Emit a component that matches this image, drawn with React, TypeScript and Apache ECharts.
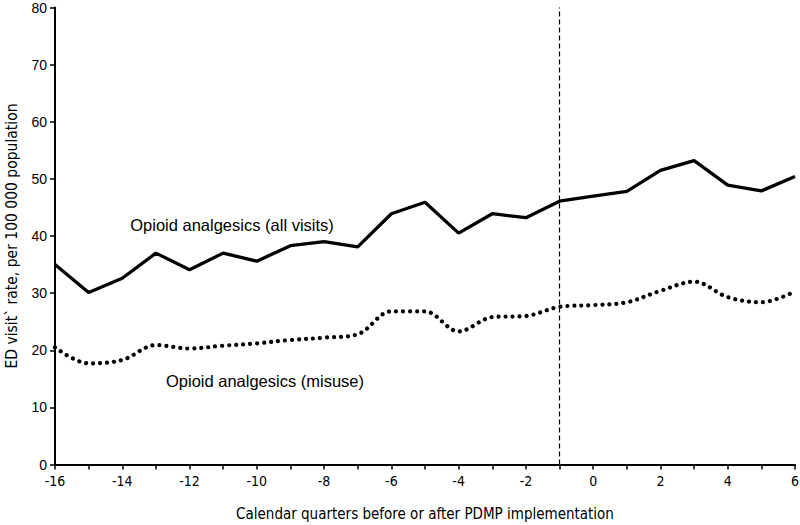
import React, { useEffect, useRef } from "react";
import * as echarts from "echarts";

const quarters = [-16, -15, -14, -13, -12, -11, -10, -9, -8, -7, -6, -5, -4, -3, -2, -1, 0, 1, 2, 3, 4, 5, 6];
const allVisits = [35.0, 30.1, 32.6, 37.0, 34.1, 37.0, 35.6, 38.3, 39.0, 38.1, 43.9, 45.9, 40.5, 43.9, 43.2, 46.1, 47.0, 47.8, 51.5, 53.2, 48.9, 47.9, 50.4];
const misuse = [20.5, 17.7, 18.3, 20.9, 20.3, 20.8, 21.2, 21.8, 22.2, 22.8, 26.8, 26.8, 23.3, 25.8, 26.0, 27.6, 27.9, 28.4, 30.4, 32.0, 29.3, 28.4, 30.3];
const implementationQuarter = -1;
const labelAll = "Opioid analgesics (all visits)";
const labelMisuse = "Opioid analgesics (misuse)";
const xTitle = "Calendar quarters before or after PDMP implementation";
const yTitle = "ED visit` rate, per 100 000 population";

const narrow = '"Liberation Sans Narrow", "DejaVu Sans Condensed", sans-serif';
const arial = '"Liberation Sans", Arial, sans-serif';

export default function App() {
  const ref = useRef<HTMLDivElement>(null);
  useEffect(() => {
    if (!ref.current) return;
    const chart = echarts.init(ref.current, null, { renderer: "svg" });
    const pair = (ys: number[]) => quarters.map((q, i) => [q, ys[i]]);
    chart.setOption({
      animation: false,
      backgroundColor: "#fff",
      grid: { left: 55, right: 5, top: 7.5, bottom: 60.5, containLabel: false, outerBoundsMode: "none" },
      xAxis: {
        type: "value",
        min: -16,
        max: 6,
        interval: 1,
        splitLine: { show: false },
        axisLine: { onZero: false, lineStyle: { color: "#000", width: 2 } },
        axisTick: { show: true, length: 5, lineStyle: { color: "#000", width: 1.5 } },
        axisLabel: {
          color: "#000",
          fontFamily: narrow,
          fontSize: 14,
          margin: 9,
          showMinLabel: true,
          showMaxLabel: true,
          formatter: (v: number) => (v % 2 === 0 ? String(v) : ""),
        },
        name: xTitle,
        nameLocation: "middle",
        nameGap: 42,
        nameTextStyle: { color: "#000", fontFamily: narrow, fontSize: 15 },
      },
      yAxis: {
        type: "value",
        min: 0,
        max: 80,
        interval: 10,
        splitLine: { show: false },
        axisLine: { show: true, onZero: false, lineStyle: { color: "#000", width: 2 } },
        axisTick: { show: true, length: 5, lineStyle: { color: "#000", width: 1.5 } },
        axisLabel: { color: "#000", fontFamily: arial, fontSize: 14, margin: 8 },
        name: yTitle,
        nameLocation: "middle",
        nameGap: 35,
        nameTextStyle: { color: "#000", fontFamily: narrow, fontSize: 15.5 },
      },
      series: [
        {
          type: "line",
          data: pair(allVisits),
          symbol: "none",
          lineStyle: { color: "#000", width: 3.3 },
          markLine: {
            silent: true,
            symbol: "none",
            label: { show: false },
            lineStyle: { color: "#000", width: 1.2, type: [5, 3] },
            data: [{ xAxis: implementationQuarter }],
          },
        },
        {
          type: "line",
          data: pair(misuse),
          symbol: "none",
          smooth: 0.35,
          lineStyle: { color: "#000", width: 4.2, type: [0.01, 7], cap: "round" },
        },
      ],
      graphic: [
        {
          type: "text",
          x: 232,
          y: 225,
          style: { text: labelAll, fill: "#000", font: `16.5px ${arial}`, align: "center", verticalAlign: "middle" },
        },
        {
          type: "text",
          x: 265,
          y: 381,
          style: { text: labelMisuse, fill: "#000", font: `16.5px ${arial}`, align: "center", verticalAlign: "middle" },
        },
      ],
    });
    return () => chart.dispose();
  }, []);
  return <div ref={ref} style={{ width: 800, height: 525, position: "absolute", left: 0, top: 0 }} />;
}
